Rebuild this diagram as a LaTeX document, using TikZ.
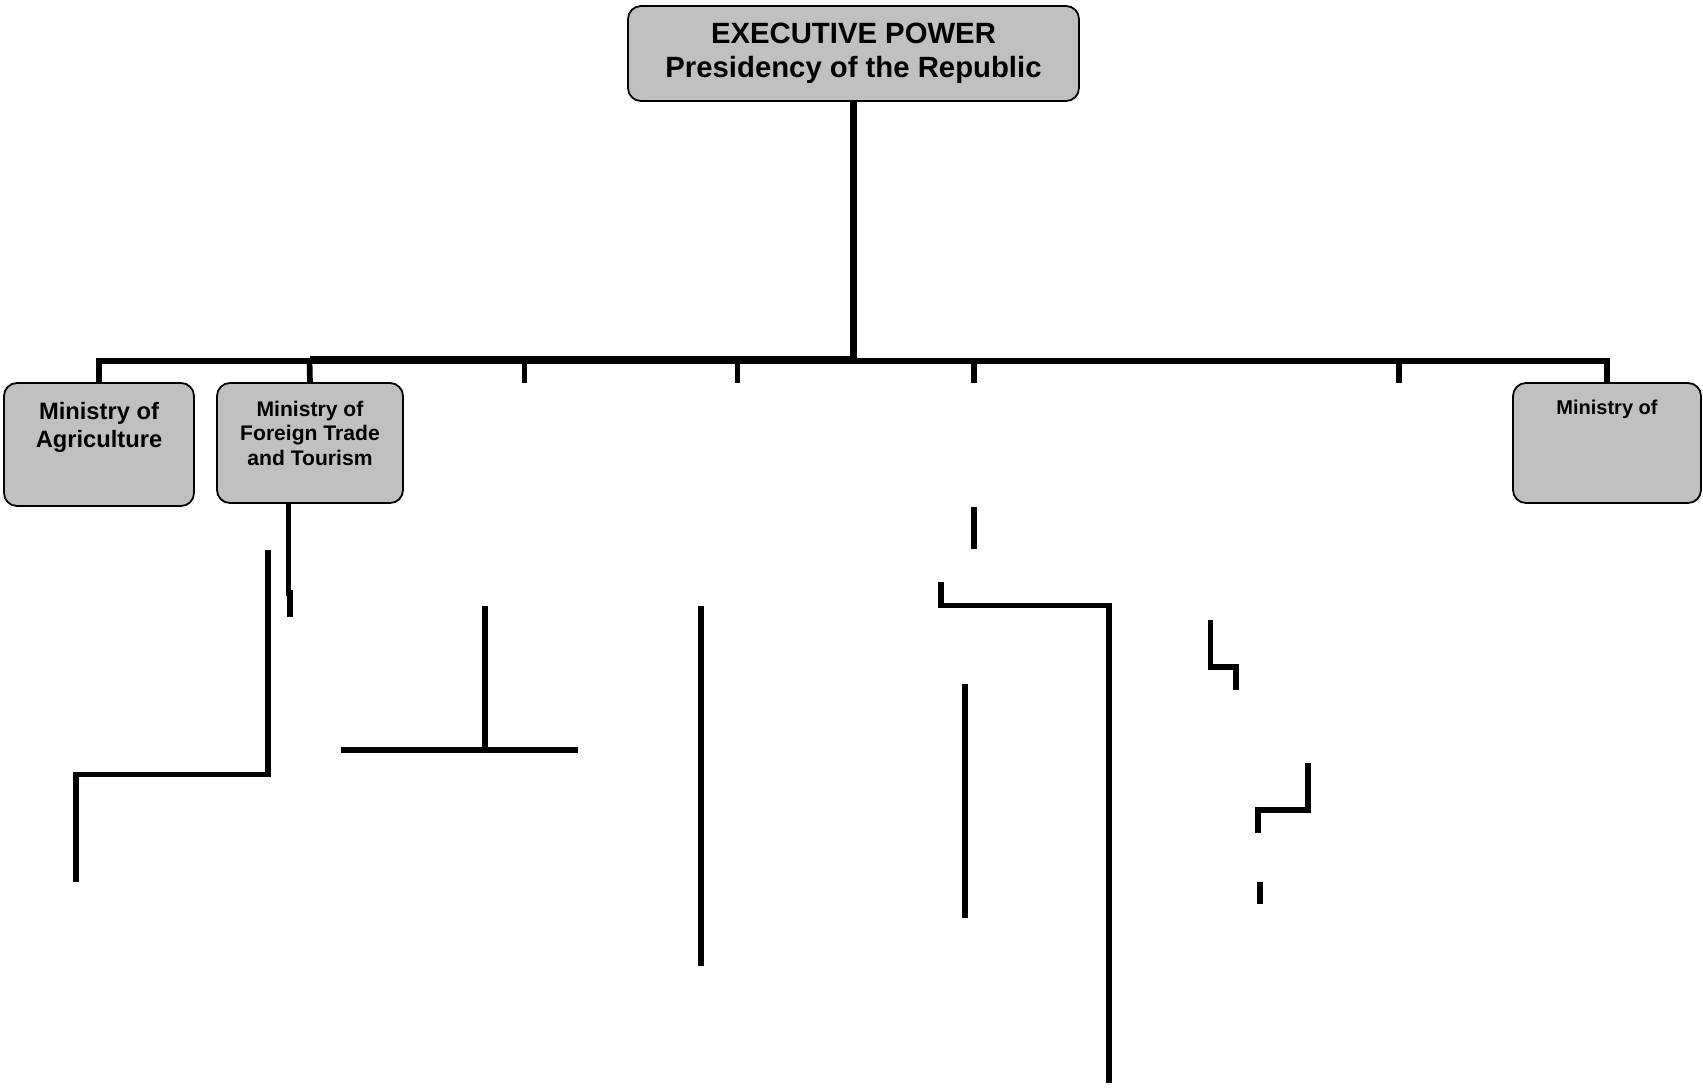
\documentclass[tikz,border=0pt]{standalone}
\usepackage{fontspec}
\setmainfont{Liberation Sans}
\definecolor{boxgray}{HTML}{C0C0C0}
\begin{document}
\begin{tikzpicture}[x=1pt,y=-1pt,
  box/.style={draw=black, line width=1.8pt, fill=boxgray, rounded corners=13pt, inner sep=0pt, outer sep=0pt},
  conn/.style={line width=5.7pt, line join=miter, line cap=butt},
  lbl/.style={anchor=base, inner sep=0pt, outer sep=0pt}]
\useasboundingbox (0,0) rectangle (1703,1088);
\fill[white] (0,0) rectangle (1703,1088);

% ---------- connectors of the top level ----------
\coordinate (stemend) at (853.5,363);
\coordinate (hL) at (99,360.5);
\coordinate (hR) at (1607,360.5);
\coordinate (thickL) at (309.5,359.5);
\coordinate (thickR) at (856,359.5);
\coordinate (tkA) at (524.6,360.5);  \coordinate (tkAe) at (524.6,383);
\coordinate (tkB) at (737.5,360.5);  \coordinate (tkBe) at (737.5,383);
\coordinate (tkC) at (974,360.5);    \coordinate (tkCe) at (974,383);
\coordinate (tkD) at (1399,360.5);   \coordinate (tkDe) at (1399,383);

% ---------- boxes ----------
\node[box, minimum width=451pt, minimum height=95pt] (exec) at (853.5,53.5) {};
\node[box, minimum width=190pt, minimum height=123pt] (agri) at (99,444.5) {};
\node[box, minimum width=186pt, minimum height=120pt] (ftt) at (310,443) {};
\node[box, minimum width=188pt, minimum height=120pt] (mright) at (1607,443) {};

\draw[conn, line width=7pt] (exec.south) -- (stemend);
\draw[conn, line width=6pt] (agri.north) -- (hL) -- (hR) -- (mright.north);
\draw[conn, line width=7pt] (thickL) -- (thickR);
\draw[conn] (ftt.north) -- (thickL);
\draw[conn] (tkA) -- (tkAe);
\draw[conn] (tkB) -- (tkBe);
\draw[conn] (tkC) -- (tkCe);
\draw[conn] (tkD) -- (tkDe);

% ---------- labels ----------
\node[lbl, font=\bfseries\fontsize{29.3}{29.3}\selectfont] (t1) at (853.5,43.3) {EXECUTIVE POWER};
\node[lbl, font=\bfseries\fontsize{29.3}{29.3}\selectfont] (t2) at (853.5,77.7) {Presidency of the Republic};
\node[lbl, font=\bfseries\fontsize{23.7}{23.7}\selectfont] (a1) at (99,419) {Ministry of};
\node[lbl, font=\bfseries\fontsize{23.7}{23.7}\selectfont] (a2) at (99,447.7) {Agriculture};
\node[lbl, font=\bfseries\fontsize{21.1}{21.1}\selectfont] (f1) at (310,416.7) {Ministry of};
\node[lbl, font=\bfseries\fontsize{21.1}{21.1}\selectfont] (f2) at (310,440.3) {Foreign Trade};
\node[lbl, font=\bfseries\fontsize{21.1}{21.1}\selectfont] (f3) at (310,465.5) {and Tourism};
\node[lbl, font=\bfseries\fontsize{20}{20}\selectfont] (r1) at (1607,414.3) {Ministry of};

% ---------- loose connector fragments ----------
\coordinate (A0) at (288.5,503);   \coordinate (A1) at (288.5,596);
\coordinate (A2) at (289.5,590);   \coordinate (A3) at (289.5,617);
\draw[conn, line width=5pt] (A0) -- (A1);
\draw[conn, line width=6pt] (A2) -- (A3);

\coordinate (B0) at (268,550); \coordinate (B1) at (268,774.5);
\coordinate (B2) at (76,774.5); \coordinate (B3) at (76,882);
\draw[conn] (B0) -- (B1) -- (B2) -- (B3);

\coordinate (C0) at (485,606); \coordinate (C1) at (485,750);
\coordinate (C2) at (341,750); \coordinate (C3) at (578,750);
\draw[conn] (C0) -- (C1);
\draw[conn] (C2) -- (C3);

\coordinate (D0) at (701,606); \coordinate (D1) at (701,966);
\draw[conn] (D0) -- (D1);

\coordinate (E0) at (974,507); \coordinate (E1) at (974,549);
\draw[conn] (E0) -- (E1);

\coordinate (F0) at (941,582); \coordinate (F1) at (941,605.5);
\coordinate (F2) at (1109,605.5); \coordinate (F3) at (1109,1083);
\draw[conn] (F0) -- (F1) -- (F2) -- (F3);

\coordinate (G0) at (965,684); \coordinate (G1) at (965,918);
\draw[conn] (G0) -- (G1);

\coordinate (H0) at (1210.5,620); \coordinate (H1) at (1210.5,667);
\coordinate (H2) at (1236,667); \coordinate (H3) at (1236,690);
\draw[conn] (H0) -- (H1) -- (H2) -- (H3);

\coordinate (I0) at (1308,763); \coordinate (I1) at (1308,810);
\coordinate (I2) at (1258,810); \coordinate (I3) at (1258,833);
\draw[conn] (I0) -- (I1) -- (I2) -- (I3);

\coordinate (J0) at (1260,882); \coordinate (J1) at (1260,904);
\draw[conn] (J0) -- (J1);
\end{tikzpicture}
\end{document}
